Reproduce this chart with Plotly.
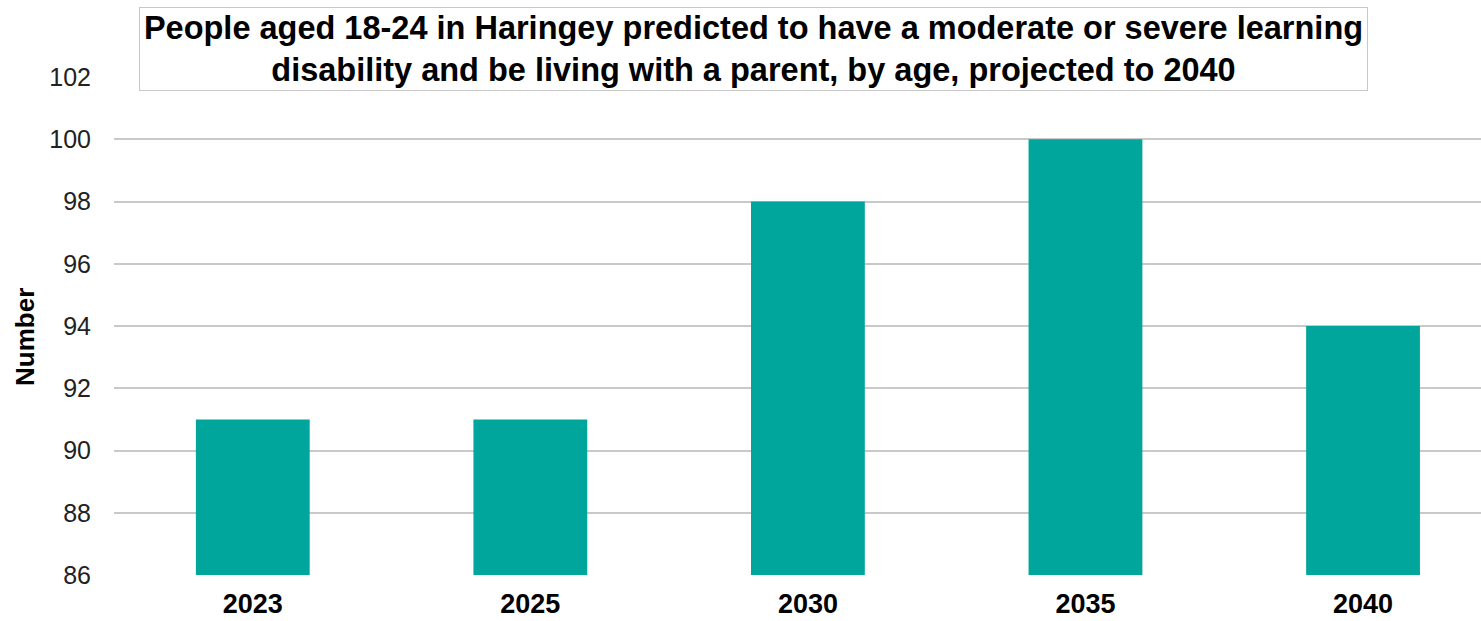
import plotly.graph_objects as go

years = ["2023", "2025", "2030", "2035", "2040"]
people = [91, 91, 98, 100, 94]
y_ticks = [86, 88, 90, 92, 94, 96, 98, 100, 102]

title_text = ("People aged 18-24 in Haringey predicted to have a moderate or severe learning<br>"
              "disability and be living with a parent, by age, projected to 2040")

FONT = "Arial, Liberation Sans, sans-serif"

fig = go.Figure(
    go.Bar(
        x=years,
        y=people,
        marker=dict(color="#00A59B", line=dict(width=0)),
        width=0.41,
    )
)

fig.update_layout(
    width=1481,
    height=621,
    margin=dict(l=114, r=0, t=77, b=46),
    paper_bgcolor="white",
    plot_bgcolor="white",
    showlegend=False,
    font=dict(family=FONT, color="#000000"),
    xaxis=dict(
        type="category",
        range=[-0.5, 4.425],
        showgrid=False,
        showline=False,
        tickfont=dict(family=FONT, size=27, color="#000000", weight="bold"),
        ticks="",
        ticklabelstandoff=10,
    ),
    yaxis=dict(
        range=[86, 102],
        tickvals=y_ticks,
        showgrid=True,
        gridcolor="#C9C9C9",
        gridwidth=2,
        zeroline=False,
        showline=False,
        ticks="",
        tickfont=dict(family=FONT, size=25, color="#222222"),
        ticklabelstandoff=22,
    ),
    annotations=[
        dict(
            text=title_text,
            xref="paper", yref="paper",
            x=0.468, y=1.057,
            xanchor="center", yanchor="middle",
            showarrow=False,
            align="center",
            font=dict(family=FONT, size=32.5, color="#000000", weight="bold"),
            bgcolor="white",
            bordercolor="#C8C8C8",
            borderwidth=1,
            width=1225,
            height=80,
        ),
        dict(
            text="Number",
            xref="paper", yref="paper",
            x=-0.0651, y=0.478,
            xanchor="center", yanchor="middle",
            textangle=-90,
            showarrow=False,
            font=dict(family=FONT, size=26, color="#000000", weight="bold"),
        ),
    ],
)

fig.write_html("out.html")
